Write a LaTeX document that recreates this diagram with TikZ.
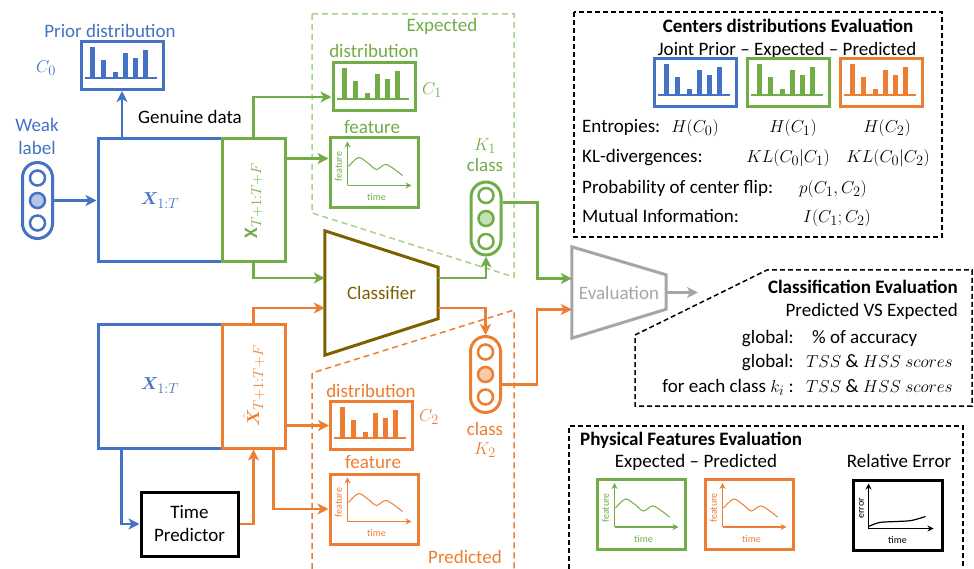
\documentclass[tikz,border=0pt]{standalone}
\usepackage{amsmath}
\usepackage{bm}
\usepackage{fontspec}
\setmainfont{Carlito}
\usetikzlibrary{arrows.meta}
\usetikzlibrary{calc}

\definecolor{cblue}{HTML}{4472C4}
\definecolor{cgreen}{HTML}{70AD47}
\definecolor{corange}{HTML}{ED7D31}
\definecolor{clgreen}{HTML}{A9D18E}
\definecolor{cbrown}{HTML}{7F6000}
\definecolor{cgray}{HTML}{A6A6A6}
\definecolor{fblue}{HTML}{B4C7E7}
\definecolor{fgreen}{HTML}{C5E0B4}
\definecolor{forange}{HTML}{F8CBAD}

\tikzset{
  arr/.style={line width=2.5pt, -{Stealth[length=11pt,width=11pt,inset=3pt]}},
  frame/.style={draw, line width=3pt, inner sep=0pt},
  histbox/.style={frame, minimum width=82pt, minimum height=48pt},
  featbox/.style={frame, minimum width=88pt, minimum height=70pt},
  pill/.style={draw, line width=3pt, minimum width=30pt, minimum height=76pt, rounded corners=15pt, inner sep=0pt},
  dot/.style={draw, circle, line width=2.5pt, minimum size=15pt, inner sep=0pt},
  panel/.style={black, dash pattern=on 5pt off 3pt, line width=1.5pt},
  txt/.style={text height=13pt, text depth=4pt, inner sep=0pt},
  tiny/.style={font=\fontsize{10}{11}\selectfont, inner sep=0pt},
}

\newcommand{\histo}[2]{%
  \begin{scope}[shift={(#1.north west)}, #2]
    \draw[line width=2pt] (5,38) -- (77,38);
    \foreach \bx/\by in {13/7, 24/20, 36/32, 46/13, 56/18, 66/10}
      \fill (\bx-2.5,38) rectangle (\bx+2.5,\by);
  \end{scope}}

\newcommand{\featplot}[2]{%
  \begin{scope}[shift={(#1.north west)}, #2]
    \draw[line width=1.2pt, -{Stealth[length=6pt,width=6pt]}] (19,49) -- (19,5);
    \draw[line width=1.2pt, -{Stealth[length=6pt,width=6pt]}] (19,49) -- (83,49);
    \draw[line width=1pt] plot[smooth] coordinates {(20,30) (30,21) (40,27) (48,33) (58,28) (74,39)};
    \node[tiny, rotate=90] at (10,30) {feature};
    \node[tiny] at (48,61) {time};
  \end{scope}}

\begin{document}
\begin{tikzpicture}[x=1pt, y=-1pt, font=\fontsize{19}{23}\selectfont]
\useasboundingbox (0,0) rectangle (974,569);

\draw[clgreen, line width=1.5pt, dash pattern=on 6pt off 4pt] (312,14) -- (514,14) -- (514,277) -- (312,213) -- cycle;
\draw[corange, line width=1.5pt, dash pattern=on 6pt off 4pt] (312,569) -- (312,373) -- (514,310) -- (514,569);
\draw[panel] (574,12) rectangle (942,237);
\draw[panel] (635,335) -- (767,270) -- (972,270) -- (972,406) -- (635,406) -- cycle;
\draw[panel] (569,569) -- (569,426) -- (963,426) -- (963,569);

\node[cblue] (priortxt) at (110,31) {Prior distribution};
\node[cblue] (c0) at (46,68) {$C_0$};
\node[histbox, cblue] (prior) at (122,65.5) {};
\histo{prior}{cblue}
\node (gentxt) at (190,117) {Genuine data};
\node[cblue, align=center] (weaktxt) at (37,136) {Weak\\label};
\node[pill, cblue] (wl) at (37.5,200.5) {};
\node[dot, cblue] (wl1) at ($(wl)+(0,-22.5)$) {};
\node[dot, cblue, fill=fblue] (wl2) at (wl) {};
\node[dot, cblue] (wl3) at ($(wl)+(0,22.5)$) {};

\node[frame, cblue, minimum width=124pt, minimum height=123pt] (xa) at (160,200.5) {$\bm{X}_{1:T}$};
\node[frame, cgreen, minimum width=63pt, minimum height=123pt] (ga) at (253.5,200.5) {};
\node[cgreen, rotate=90] (galbl) at (ga) {$\mathbf{X}_{T+1:T+F}$};
\node[frame, cblue, minimum width=124pt, minimum height=124pt] (xb) at (160,386) {$\bm{X}_{1:T}$};
\node[frame, corange, minimum width=63pt, minimum height=124pt] (oa) at (253.5,386) {};
\node[corange, rotate=90] (oalbl) at (oa) {$\hat{\bm{X}}_{T+1:T+F}$};
\node[frame, black, minimum width=97pt, minimum height=64pt, align=center] (tp) at (189.5,524) {Time\\Predictor};

\node[cgreen] (expl) at (442,26) {Expected};
\node[cgreen] (gdisttxt) at (374,51) {distribution};
\node[histbox, cgreen] (gdist) at (374,87) {};
\histo{gdist}{cgreen}
\node[cgreen] (c1) at (432,90) {$C_1$};
\node[cgreen] (gfeattxt) at (372,127) {feature};
\node[featbox, cgreen] (gfeat) at (374,173) {};
\featplot{gfeat}{cgreen}

\node[corange] (odisttxt) at (371,391) {distribution};
\node[histbox, corange] (odist) at (371.5,425.5) {};
\histo{odist}{corange}
\node[corange] (c2) at (429,417) {$C_2$};
\node[corange] (ofeattxt) at (373,462) {feature};
\node[featbox, corange] (ofeat) at (374,509) {};
\featplot{ofeat}{corange}
\node[corange] (predl) at (465,557) {Predicted};

\node[minimum width=113pt, minimum height=124pt, inner sep=0pt, text=cbrown] (cls) at (381.5,293) {Classifier};
\draw[cbrown, line width=3pt] (cls.north west) -- ($(cls.north east)+(0,36.5)$) -- ($(cls.south east)+(0,-36.5)$) -- (cls.south west) -- cycle;

\node[cgreen] (k1txt) at (485,146) {$K_1$};
\node[cgreen] (k1cls) at (485,165) {class};
\node[pill, cgreen, minimum height=73pt] (k1) at (486,218.5) {};
\node[dot, cgreen] (k11) at ($(k1)+(0,-23)$) {};
\node[dot, cgreen, fill=fgreen] (k12) at (k1) {};
\node[dot, cgreen] (k13) at ($(k1)+(0,23)$) {};

\node[pill, corange] (k2) at (485.5,374.5) {};
\node[dot, corange] (k21) at ($(k2)+(0,-22.5)$) {};
\node[dot, corange, fill=forange] (k22) at (k2) {};
\node[dot, corange] (k23) at ($(k2)+(0,22.5)$) {};
\node[corange] (k2cls) at (485,429) {class};
\node[corange] (k2txt) at (485,450) {$K_2$};

\node[minimum width=94pt, minimum height=91pt, inner sep=0pt, text=cgray] (ev) at (619,292.5) {Evaluation};
\draw[cgray, line width=3pt] (ev.north west) -- ($(ev.north east)+(0,28)$) -- ($(ev.south east)+(0,-29)$) -- (ev.south west) -- cycle;
\coordinate (evout) at (698,292.5);

\draw[arr, cblue] (wl.east) -- (xa.west);
\draw[arr, cblue] (prior.south |- xa.north) -- (prior.south);
\draw[arr, cgreen] (ga.north) |- ($(gdist.west)+(0,10)$);
\draw[arr, cgreen] ($(ga.north east)+(0,21)$) coordinate (gs) -- (gfeat.west |- gs);
\draw[arr, cgreen] (ga.south) |- ($(cls.west)+(0,-15)$);
\draw[arr, corange] (oa.north) |- ($(cls.west)+(0,15)$);
\draw[arr, corange] ($(oa.north east)+(0,103)$) coordinate (os) -- (odist.west |- os);
\draw[arr, corange] ($(oa.south)+(20,0)$) |- (ofeat.west);
\draw[arr, cblue] ($(xb.south west)+(25,0)$) |- (tp.west);
\draw[arr, corange] (tp.east) -| (oa.south);
\draw[arr, cgreen] ($(cls.east)+(0,-15)$) -| (k1.south);
\draw[arr, corange] ($(cls.east)+(0,15)$) -| (k2.north);
\draw[arr, cgreen] ($(k1.east)+(0,-16)$) -- ++(35,0) |- ($(ev.west)+(0,-14)$);
\draw[arr, corange] ($(k2.east)+(0,10)$) -- ++(35,0) |- ($(ev.west)+(0,17)$);
\draw[arr, cgray] (ev.east) -- (evout);

\node[font=\fontsize{19}{23}\selectfont\bfseries] (ctitle) at (788,26) {Centers distributions Evaluation};
\node (cjoint) at (787,50) {Joint Prior -- Expected -- Predicted};
\node[histbox, cblue] (hc0) at (695.5,82.5) {};
\histo{hc0}{cblue}
\node[histbox, cgreen] (hc1) at (788.5,82.5) {};
\histo{hc1}{cgreen}
\node[histbox, corange] (hc2) at (881.5,82.5) {};
\histo{hc2}{corange}
\node[txt, anchor=west] (ent) at (582,128) {Entropies:};
\node[txt] (h0) at (695,128) {$H(C_0)$};
\node[txt] (h1) at (793,128) {$H(C_1)$};
\node[txt] (h2) at (887,128) {$H(C_2)$};
\node[txt, anchor=west] (kl) at (582,158) {KL-divergences:};
\node[txt] (kl1) at (788,158) {$KL(C_0|C_1)$};
\node[txt] (kl2) at (888,158) {$KL(C_0|C_2)$};
\node[txt, anchor=west] (flip) at (582,189) {Probability of center flip:};
\node[txt] (pflip) at (833,189) {$p(C_1,C_2)$};
\node[txt, anchor=west] (mi) at (582,218) {Mutual Information:};
\node[txt] (imi) at (837,218) {$I(C_1;C_2)$};

\node[txt, font=\fontsize{19}{23}\selectfont\bfseries, anchor=east] (clstitle) at (958,289) {Classification Evaluation};
\node[txt, anchor=east] (clssub) at (958,312) {Predicted VS Expected};
\node[txt, anchor=east] (glob1) at (794,339) {global:};
\node[txt, anchor=west] (acc) at (812,339) {\% of accuracy};
\node[txt, anchor=east] (glob2) at (794,363) {global:};
\node[txt, anchor=west] (tss1) at (806,363) {$TSS\ \&\ HSS\ scores$};
\node[txt, anchor=east] (glob3) at (794,388) {for each class $k_i$ :};
\node[txt, anchor=west] (tss2) at (806,388) {$TSS\ \&\ HSS\ scores$};

\node[txt, font=\fontsize{19}{23}\selectfont\bfseries, anchor=west] (phtitle) at (580,441) {Physical Features Evaluation};
\node[txt] (phep) at (696,463) {Expected -- Predicted};
\node[txt] (phre) at (899,463) {Relative Error};
\node[featbox, cgreen] (pfg) at (641,514.5) {};
\featplot{pfg}{cgreen}
\node[featbox, corange] (pfo) at (749,514.5) {};
\featplot{pfo}{corange}
\node[featbox, black, minimum width=89pt] (err) at (897.5,515) {};
\begin{scope}[shift={(err.north west)}]
  \draw[line width=1.2pt, -{Stealth[length=6pt,width=6pt]}] (17,50) -- (17,5);
  \draw[line width=1.2pt, -{Stealth[length=6pt,width=6pt]}] (17,50) -- (82,50);
  \draw[line width=1.2pt] plot[smooth] coordinates {(17,48) (28,44) (45,43) (60,42) (74,38)};
  \node[tiny, rotate=90] at (10,30) {error};
  \node[tiny] at (46,62) {time};
\end{scope}
\end{tikzpicture}
\end{document}
